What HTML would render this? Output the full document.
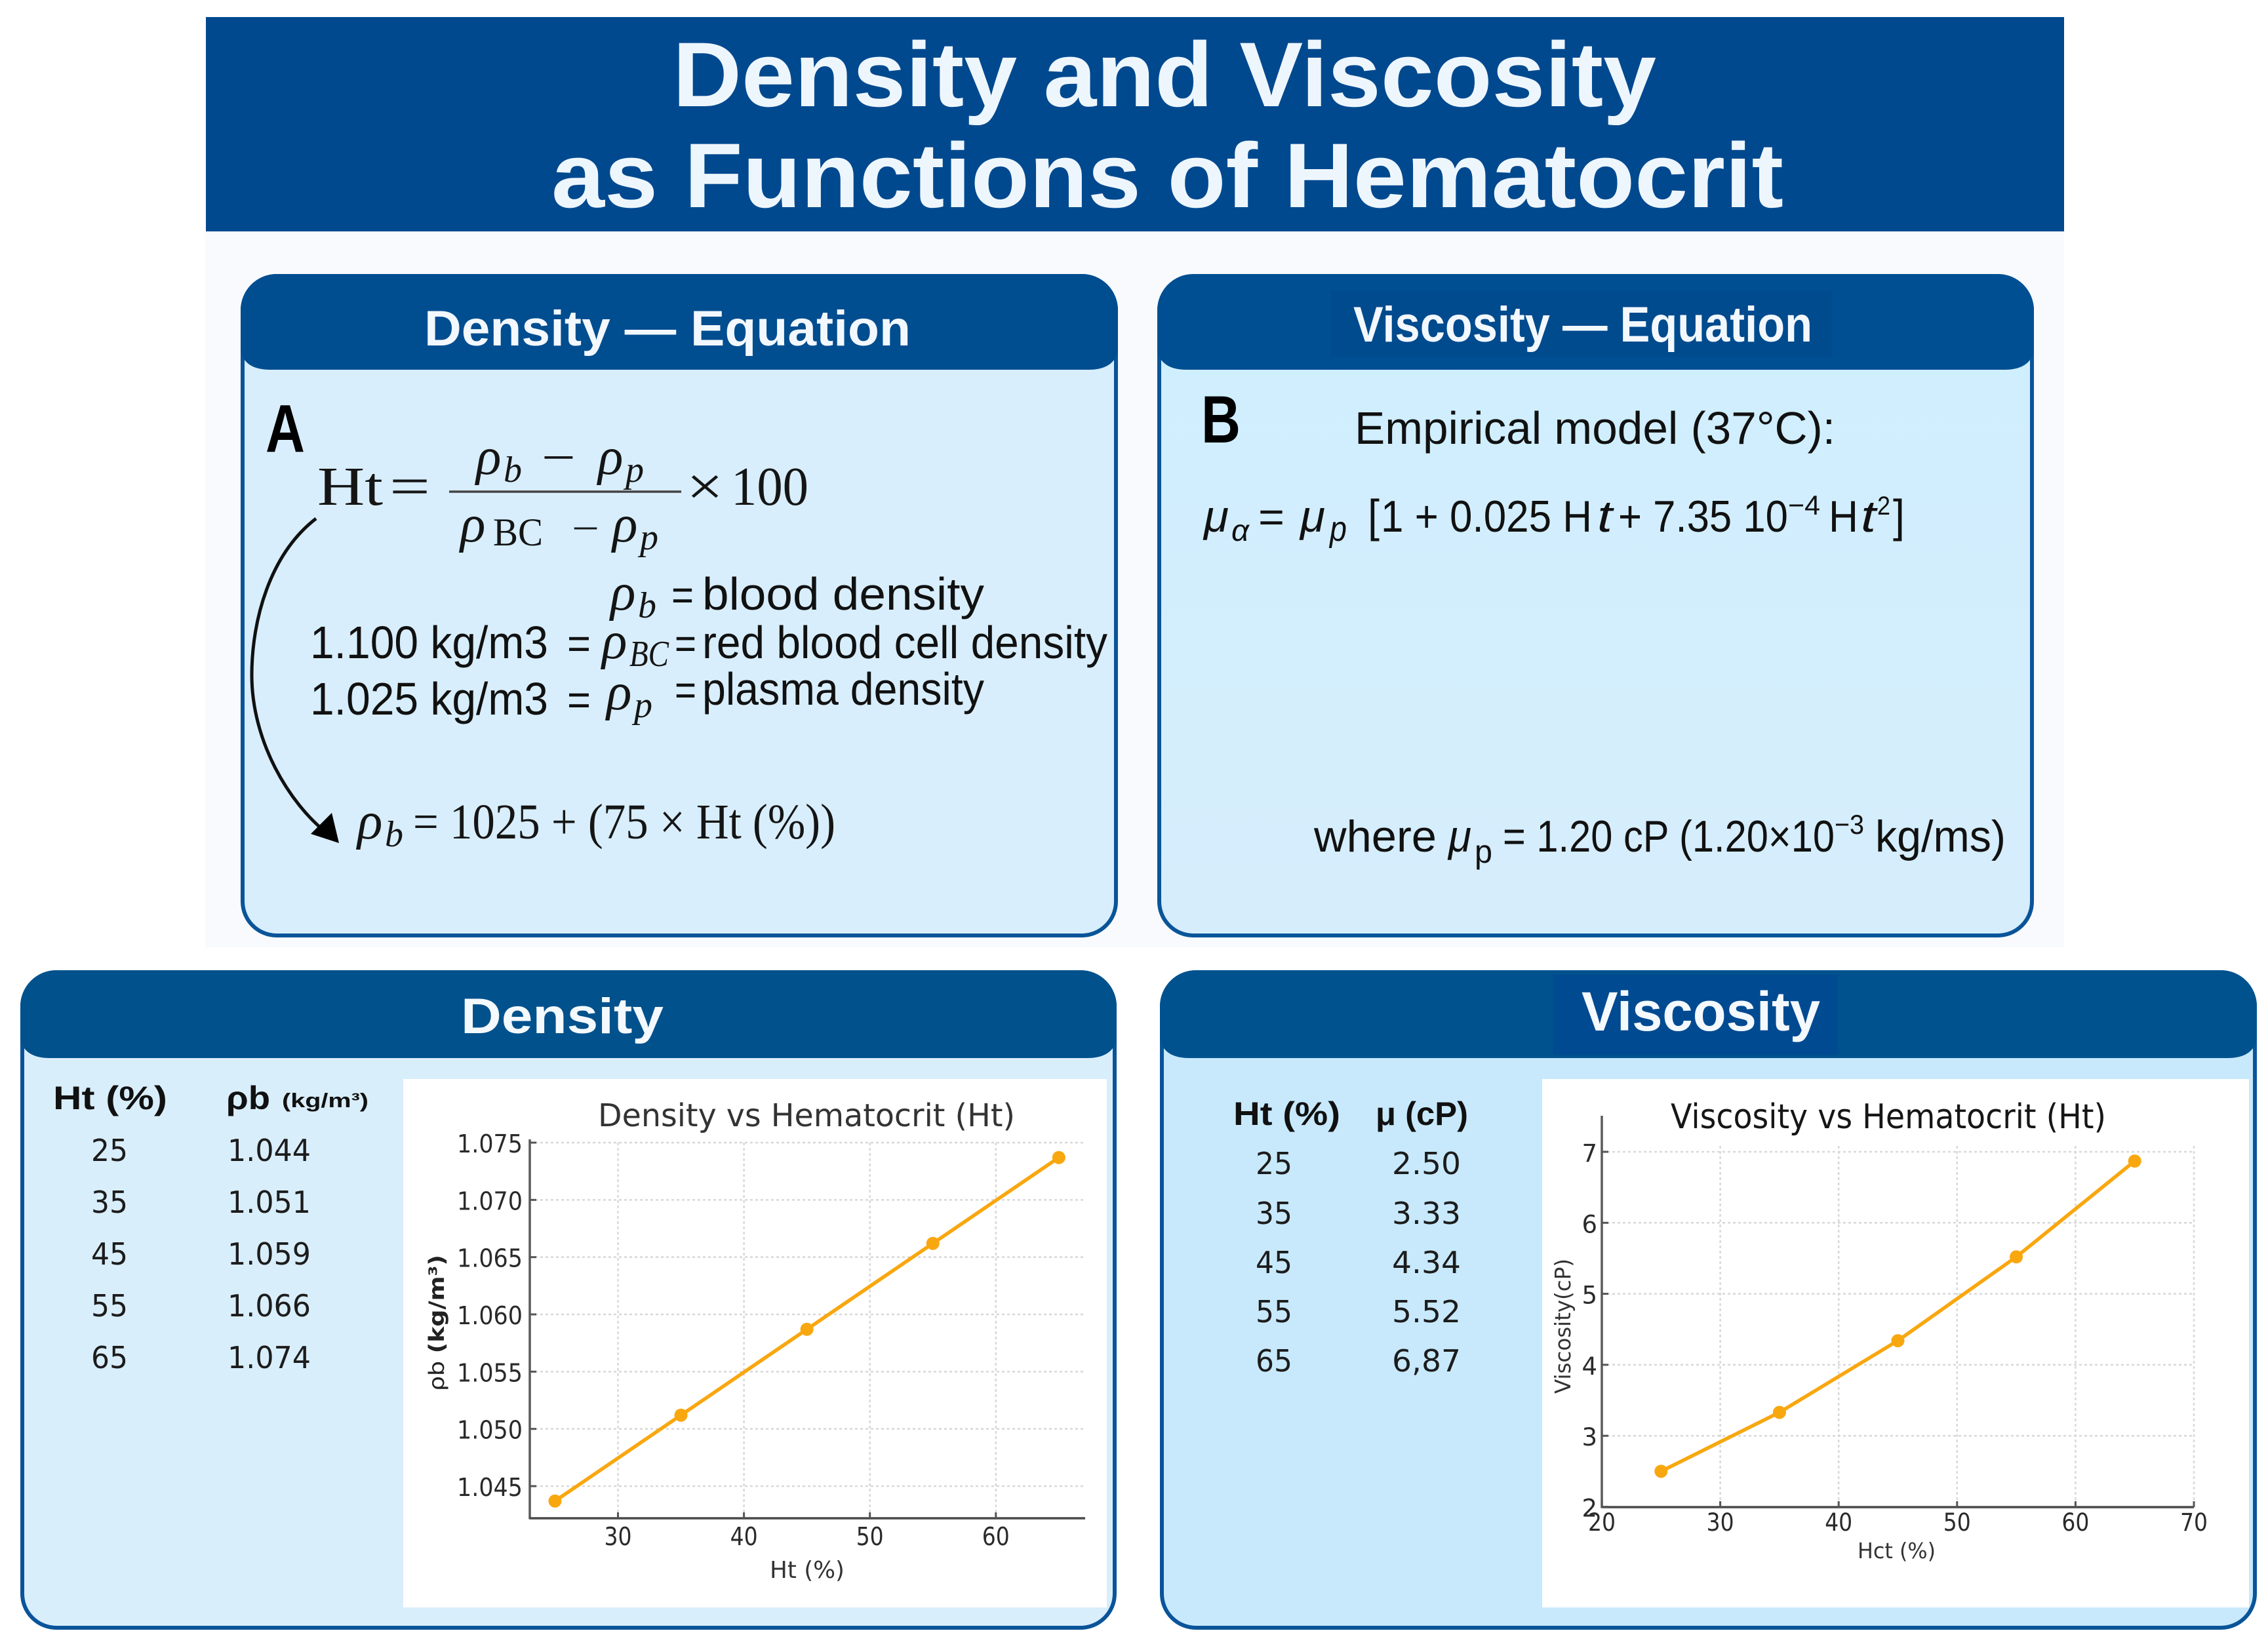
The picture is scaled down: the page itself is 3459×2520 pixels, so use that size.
<!DOCTYPE html>
<html lang="en">
<head>
<meta charset="utf-8">
<title>Density and Viscosity as Functions of Hematocrit</title>
<style>
html,body{margin:0;padding:0;background:#fff;width:3459px;height:2520px;overflow:hidden}
svg{display:block}
text{white-space:pre}
.s{font-family:"Liberation Sans",sans-serif;fill:#111}
.b{font-family:"Liberation Sans",sans-serif;font-weight:700}
.m{font-family:"Liberation Serif",serif;fill:#151515}
.i{font-style:italic}
.d{font-family:"DejaVu Sans",sans-serif;fill:#1c1c1c}
</style>
</head>
<body>
<svg id="figure" xmlns="http://www.w3.org/2000/svg" width="3459" height="2520" viewBox="0 0 3459 2520">
  <defs>
    <linearGradient id="visGrad" x1="0" y1="0" x2="0" y2="1"><stop offset="0" stop-color="#cfefff"/><stop offset="1" stop-color="#d6edfb"/></linearGradient>
  </defs>
  <rect width="3459" height="2520" fill="#ffffff"/>
  <rect x="313" y="353" width="2835" height="1092" fill="#f8fafd"/>

  <g>
    <rect x="314" y="26" width="2834" height="327" fill="#00498f"/>
    <text class="b" x="1026" y="162" font-size="140" fill="#eef6fd" textLength="1500" lengthAdjust="spacingAndGlyphs">Density and Viscosity</text>
    <text class="b" x="841" y="316" font-size="140" fill="#eef6fd" textLength="1879" lengthAdjust="spacingAndGlyphs">as Functions of Hematocrit</text>
  </g>

  <g>
    <rect x="370" y="421" width="1332" height="1006" rx="52" fill="#d8eefc" stroke="#0a5499" stroke-width="6"/>
    <path d="M367 473A55 55 0 0 1 422 418H1650A55 55 0 0 1 1705 473V536Q1698 564 1660 564H412Q374 564 367 536Z" fill="#004d90"/>
    <text class="b" x="647" y="527" font-size="76" fill="#f2f8fd" textLength="742" lengthAdjust="spacingAndGlyphs">Density — Equation</text>
    <text class="b" x="405" y="689" font-size="103" fill="#000" textLength="60" lengthAdjust="spacingAndGlyphs">A</text>
    <g>
      <text class="m" x="484" y="770" font-size="84" textLength="100" lengthAdjust="spacingAndGlyphs">Ht</text>
      <text class="m" x="594" y="770" font-size="84" textLength="62" lengthAdjust="spacingAndGlyphs">=</text>
      <text class="m i" x="726" y="723" font-size="80">ρ</text><text class="m i" x="768" y="735" font-size="56">b</text>
      <text class="m" x="826" y="723" font-size="76" textLength="52" lengthAdjust="spacingAndGlyphs">−</text>
      <text class="m i" x="912" y="723" font-size="80">ρ</text><text class="m i" x="954" y="735" font-size="56">p</text>
      <line x1="685" y1="750" x2="1039" y2="750" stroke="#444" stroke-width="3.5"/>
      <text class="m i" x="702" y="826" font-size="80">ρ</text><text class="m" x="752" y="832" font-size="60" textLength="76" lengthAdjust="spacingAndGlyphs">BC</text>
      <text class="m" x="872" y="826" font-size="60" textLength="42" lengthAdjust="spacingAndGlyphs">−</text>
      <text class="m i" x="934" y="826" font-size="80">ρ</text><text class="m i" x="976" y="838" font-size="56">p</text>
      <text class="m" x="1047" y="770" font-size="84" textLength="56" lengthAdjust="spacingAndGlyphs">×</text>
      <text class="m" x="1115" y="770" font-size="84" textLength="118" lengthAdjust="spacingAndGlyphs">100</text>
    </g>
    <g>
      <text class="m i" x="931" y="930" font-size="80">ρ</text><text class="m i" x="973" y="942" font-size="56">b</text>
      <text class="s" x="1024" y="930" font-size="66" textLength="34" lengthAdjust="spacingAndGlyphs">=</text>
      <text class="s" x="1071" y="930" font-size="70" textLength="430" lengthAdjust="spacingAndGlyphs">blood density</text>
      <text class="s" x="473" y="1004" font-size="70" textLength="363" lengthAdjust="spacingAndGlyphs">1.100 kg/m3</text>
      <text class="s" x="865" y="1004" font-size="66" textLength="36" lengthAdjust="spacingAndGlyphs">=</text>
      <text class="m i" x="918" y="1004" font-size="80">ρ</text><text class="m i" x="960" y="1016" font-size="56" textLength="60" lengthAdjust="spacingAndGlyphs">BC</text>
      <text class="s" x="1029" y="1004" font-size="66" textLength="33" lengthAdjust="spacingAndGlyphs">=</text>
      <text class="s" x="1071" y="1004" font-size="70" textLength="618" lengthAdjust="spacingAndGlyphs">red blood cell density</text>
      <text class="s" x="473" y="1090" font-size="70" textLength="363" lengthAdjust="spacingAndGlyphs">1.025 kg/m3</text>
      <text class="s" x="865" y="1090" font-size="66" textLength="36" lengthAdjust="spacingAndGlyphs">=</text>
      <text class="m i" x="925" y="1082" font-size="80">ρ</text><text class="m i" x="967" y="1094" font-size="56">p</text>
      <text class="s" x="1029" y="1075" font-size="66" textLength="33" lengthAdjust="spacingAndGlyphs">=</text>
      <text class="s" x="1071" y="1075" font-size="70" textLength="430" lengthAdjust="spacingAndGlyphs">plasma density</text>
    </g>
    <path d="M482 791C412 845 384 945 384 1030C384 1130 440 1225 500 1272" fill="none" stroke="#111" stroke-width="5"/>
    <path d="M517 1286L474 1272L506 1240Z" fill="#000"/>
    <g>
      <text class="m i" x="545" y="1279" font-size="80">ρ</text><text class="m i" x="587" y="1291" font-size="56">b</text>
      <text class="m" x="630" y="1279" font-size="76" textLength="644" lengthAdjust="spacingAndGlyphs">= 1025 + (75 × Ht (%))</text>
    </g>
  </g>

  <g>
    <rect x="1768" y="422" width="1331" height="1005" rx="52" fill="url(#visGrad)" stroke="#0a5499" stroke-width="6"/>
    <path d="M1765 473A55 55 0 0 1 1820 418H3047A55 55 0 0 1 3102 473V536Q3095 564 3057 564H1810Q1772 564 1765 536Z" fill="#004f93"/>
    <rect x="2030" y="444" width="764" height="100" fill="#004a8e"/>
    <text class="b" x="2064" y="521" font-size="76" fill="#f2f8fd" textLength="700" lengthAdjust="spacingAndGlyphs">Viscosity — Equation</text>
    <text class="b" x="1832" y="675" font-size="102" fill="#000" textLength="60" lengthAdjust="spacingAndGlyphs">B</text>
    <text class="s" x="2066" y="677" font-size="70" textLength="733" lengthAdjust="spacingAndGlyphs">Empirical model (37°C):</text>
    <g>
      <text class="s i" x="1836" y="811" font-size="68" textLength="38" lengthAdjust="spacingAndGlyphs">μ</text>
      <text class="s i" x="1878" y="825" font-size="46" textLength="27" lengthAdjust="spacingAndGlyphs">α</text>
      <text class="s" x="1919" y="811" font-size="66" textLength="40" lengthAdjust="spacingAndGlyphs">=</text>
      <text class="s i" x="1983" y="811" font-size="68" textLength="38" lengthAdjust="spacingAndGlyphs">μ</text>
      <text class="s i" x="2028" y="825" font-size="54" textLength="26" lengthAdjust="spacingAndGlyphs">p</text>
      <text class="s" x="2086" y="811" font-size="70" textLength="18" lengthAdjust="spacingAndGlyphs">[</text>
      <text class="s" x="2106" y="811" font-size="68" textLength="322" lengthAdjust="spacingAndGlyphs">1 + 0.025 H</text>
      <text class="s i" x="2436" y="811" font-size="68" textLength="23" lengthAdjust="spacingAndGlyphs" font-weight="400">t</text>
      <text class="s" x="2468" y="811" font-size="68" textLength="259" lengthAdjust="spacingAndGlyphs">+ 7.35 10</text>
      <text class="s" x="2727" y="785" font-size="42" textLength="49" lengthAdjust="spacingAndGlyphs">−4</text>
      <text class="s" x="2789" y="811" font-size="68" textLength="45" lengthAdjust="spacingAndGlyphs">H</text>
      <text class="s i" x="2838" y="811" font-size="68" textLength="23" lengthAdjust="spacingAndGlyphs">t</text>
      <text class="s" x="2863" y="785" font-size="40" textLength="20" lengthAdjust="spacingAndGlyphs">2</text>
      <text class="s" x="2887" y="811" font-size="70" textLength="18" lengthAdjust="spacingAndGlyphs">]</text>
    </g>
    <g>
      <text class="s" x="2004" y="1299" font-size="68" textLength="187" lengthAdjust="spacingAndGlyphs">where</text>
      <text class="s i" x="2209" y="1299" font-size="68" textLength="35" lengthAdjust="spacingAndGlyphs">μ</text>
      <text class="s" x="2249" y="1316" font-size="50" textLength="27" lengthAdjust="spacingAndGlyphs">p</text>
      <text class="s" x="2292" y="1299" font-size="68" textLength="506" lengthAdjust="spacingAndGlyphs">= 1.20 cP (1.20×10</text>
      <text class="s" x="2798" y="1272" font-size="42" textLength="45" lengthAdjust="spacingAndGlyphs">−3</text>
      <text class="s" x="2860" y="1299" font-size="68" textLength="199" lengthAdjust="spacingAndGlyphs">kg/ms)</text>
    </g>
  </g>

  <g>
    <rect x="34" y="1483" width="1666" height="1000" rx="52" fill="#d9eefb" stroke="#0a5499" stroke-width="6"/>
    <path d="M31 1535A55 55 0 0 1 86 1480H1648A55 55 0 0 1 1703 1535V1586Q1696 1614 1658 1614H76Q38 1614 31 1586Z" fill="#00518c"/>
    <text class="b" x="703" y="1576" font-size="76" fill="#f4f9fd" textLength="309" lengthAdjust="spacingAndGlyphs">Density</text>
    <g>
      <text class="b" x="81" y="1692" font-size="50" fill="#111" textLength="174" lengthAdjust="spacingAndGlyphs">Ht (%)</text>
      <text class="b" x="345" y="1692" font-size="50" fill="#111" textLength="67" lengthAdjust="spacingAndGlyphs">ρb</text>
      <text class="b" x="430" y="1689" font-size="31" fill="#111" textLength="132" lengthAdjust="spacingAndGlyphs">(kg/m³)</text>
      <text class="d" x="139" y="1771" font-size="46" textLength="56" lengthAdjust="spacingAndGlyphs">25</text><text class="d" x="347" y="1771" font-size="46" textLength="127" lengthAdjust="spacingAndGlyphs">1.044</text>
      <text class="d" x="139" y="1850" font-size="46" textLength="56" lengthAdjust="spacingAndGlyphs">35</text><text class="d" x="347" y="1850" font-size="46" textLength="127" lengthAdjust="spacingAndGlyphs">1.051</text>
      <text class="d" x="139" y="1929" font-size="46" textLength="56" lengthAdjust="spacingAndGlyphs">45</text><text class="d" x="347" y="1929" font-size="46" textLength="127" lengthAdjust="spacingAndGlyphs">1.059</text>
      <text class="d" x="139" y="2008" font-size="46" textLength="56" lengthAdjust="spacingAndGlyphs">55</text><text class="d" x="347" y="2008" font-size="46" textLength="127" lengthAdjust="spacingAndGlyphs">1.066</text>
      <text class="d" x="139" y="2087" font-size="46" textLength="56" lengthAdjust="spacingAndGlyphs">65</text><text class="d" x="347" y="2087" font-size="46" textLength="127" lengthAdjust="spacingAndGlyphs">1.074</text>
    </g>
    <rect x="615" y="1646" width="1073" height="806" fill="#ffffff"/>
    <text class="d" x="912" y="1718" font-size="48" textLength="636" lengthAdjust="spacingAndGlyphs" style="fill:#333">Density vs Hematocrit (Ht)</text>
    <text class="d" x="1174" y="2407" font-size="36" style="fill:#333" textLength="114" lengthAdjust="spacingAndGlyphs">Ht (%)</text>
    <text class="d" font-size="32" transform="translate(677 2122) rotate(-90)" style="fill:#222" textLength="208" lengthAdjust="spacingAndGlyphs">ρb <tspan font-weight="700">(kg/m³)</tspan></text>
    <g id="density-chart"></g>
  </g>

  <g>
    <rect x="1772" y="1483" width="1667" height="1000" rx="52" fill="#c8e9fc" stroke="#0a5499" stroke-width="6"/>
    <path d="M1769 1535A55 55 0 0 1 1824 1480H3387A55 55 0 0 1 3442 1535V1586Q3435 1614 3397 1614H1814Q1776 1614 1769 1586Z" fill="#00528f"/>
    <rect x="2369" y="1487" width="434" height="122" fill="#004a92"/>
    <text class="b" x="2412" y="1572" font-size="84" fill="#f4f9fd" textLength="364" lengthAdjust="spacingAndGlyphs">Viscosity</text>
    <g>
      <text class="b" x="1881" y="1716" font-size="50" fill="#111" textLength="163" lengthAdjust="spacingAndGlyphs">Ht (%)</text>
      <text class="b" x="2098" y="1716" font-size="50" fill="#111" textLength="141" lengthAdjust="spacingAndGlyphs">μ (cP)</text>
      <text class="d" x="1915" y="1791" font-size="46" textLength="56" lengthAdjust="spacingAndGlyphs">25</text><text class="d" x="2123" y="1791" font-size="46" textLength="105" lengthAdjust="spacingAndGlyphs">2.50</text>
      <text class="d" x="1915" y="1867" font-size="46" textLength="56" lengthAdjust="spacingAndGlyphs">35</text><text class="d" x="2123" y="1867" font-size="46" textLength="105" lengthAdjust="spacingAndGlyphs">3.33</text>
      <text class="d" x="1915" y="1942" font-size="46" textLength="56" lengthAdjust="spacingAndGlyphs">45</text><text class="d" x="2123" y="1942" font-size="46" textLength="105" lengthAdjust="spacingAndGlyphs">4.34</text>
      <text class="d" x="1915" y="2017" font-size="46" textLength="56" lengthAdjust="spacingAndGlyphs">55</text><text class="d" x="2123" y="2017" font-size="46" textLength="105" lengthAdjust="spacingAndGlyphs">5.52</text>
      <text class="d" x="1915" y="2092" font-size="46" textLength="56" lengthAdjust="spacingAndGlyphs">65</text><text class="d" x="2123" y="2092" font-size="46" textLength="105" lengthAdjust="spacingAndGlyphs">6,87</text>
    </g>
    <rect x="2352" y="1646" width="1078" height="806" fill="#ffffff"/>
    <text class="d" x="2548" y="1721" font-size="52" style="fill:#161616" textLength="664" lengthAdjust="spacingAndGlyphs">Viscosity vs Hematocrit (Ht)</text>
    <text class="d" x="2833" y="2377" font-size="33" style="fill:#333" textLength="119" lengthAdjust="spacingAndGlyphs">Hct (%)</text>
    <text class="d" font-size="33" transform="translate(2395 2126) rotate(-90)" style="fill:#333" textLength="206" lengthAdjust="spacingAndGlyphs">Viscosity(cP)</text>
    <g id="viscosity-chart"></g>
  </g>
</svg>

<script>
const densityHt = [25, 35, 45, 55, 65];
const densityValues = [1.0437, 1.0512, 1.0587, 1.0662, 1.0737];
const densityXTicks = [30, 40, 50, 60];
const densityYTicks = [1.045, 1.05, 1.055, 1.06, 1.065, 1.07, 1.075];
const densityYLabels = ['1.045', '1.050', '1.055', '1.060', '1.065', '1.070', '1.075'];

const viscosityHt = [25, 35, 45, 55, 65];
const viscosityValues = [2.5, 3.33, 4.34, 5.52, 6.87];
const viscosityXTicks = [20, 30, 40, 50, 60, 70];
const viscosityYTicks = [2, 3, 4, 5, 6, 7];
const viscosityYLabels = ['2', '3', '4', '5', '6', '7'];

const SVGNS = 'http://www.w3.org/2000/svg';
function make(parent, tag, attrs) {
  const el = document.createElementNS(SVGNS, tag);
  for (const k in attrs) el.setAttribute(k, attrs[k]);
  parent.appendChild(el);
  return el;
}

function densityX(v) { return 942.5 + (v - 30) * 19.21; }
function densityY(v) { return 1743 + (1.075 - v) * 17467; }
function viscosityX(v) { return 2443 + (v - 20) * 18.06; }
function viscosityY(v) { return 1757 + (7 - v) * 108.3; }

function drawChart(root, o) {
  const grid = make(root, 'g', { stroke: '#d8d8d8', 'stroke-width': 2.5, 'stroke-dasharray': '4 4', fill: 'none' });
  
  
  o.xTicks.forEach(function (t) {
    if (t === o.xSkipGrid) return;
    const g = make(grid, 'line', { x1: o.x(t), x2: o.x(t), y1: o.gridTop, y2: o.bottom });
    
    
  });
  o.yTicks.forEach(function (t) {
    if (t === o.ySkipGrid) return;
    const g = make(grid, 'line', { x1: o.left, x2: o.right, y1: o.y(t), y2: o.y(t) });
    
    
  });

  const yAxis = make(root, 'line', { x1: o.left, x2: o.left, y1: o.top, y2: o.bottom + 1.5, stroke: '#5a5a5a', 'stroke-width': 3.5 });
  
  
  const xAxis = make(root, 'line', { x1: o.left, x2: o.right, y1: o.bottom, y2: o.bottom, stroke: '#4a4a4a', 'stroke-width': 3.5 });
  
  

  o.xTicks.forEach(function (t) {
    const mark = make(root, 'line', { x1: o.x(t), x2: o.x(t), y1: o.bottom - 9, y2: o.bottom, stroke: '#555', 'stroke-width': 3 });
    
    
    const lab = make(root, 'text', { x: o.x(t), y: o.xLabelY, 'text-anchor': 'middle', 'font-size': o.fontSize, class: 'd', style: 'fill:#2a2a2a', textLength: 42, lengthAdjust: 'spacingAndGlyphs' });
    lab.textContent = String(t);
    
    
  });
  o.yTicks.forEach(function (t, i) {
    const mark = make(root, 'line', { x1: o.left, x2: o.left + 10, y1: o.y(t), y2: o.y(t), stroke: '#555', 'stroke-width': 3 });
    
    
    const lab = make(root, 'text', { x: o.yLabelX, y: o.y(t) + o.yLabelDy, 'text-anchor': 'end', 'font-size': o.fontSize, class: 'd', style: 'fill:#2a2a2a' });
    lab.textContent = o.yLabels[i];
    if (o.yLabelLen) lab.setAttribute('textLength', o.yLabelLen);
    if (o.yLabelLen) lab.setAttribute('lengthAdjust', 'spacingAndGlyphs');
    
    
  });

  const pts = o.xs.map(function (v, i) { return o.x(v) + ',' + o.y(o.ys[i]); }).join(' ');
  const line = make(root, 'polyline', { points: pts, fill: 'none', stroke: '#f9a70f', 'stroke-width': 5.5, 'stroke-linejoin': 'round' });
  
  
  o.xs.forEach(function (v, i) {
    const dot = make(root, 'circle', { cx: o.x(v), cy: o.y(o.ys[i]), r: 10, fill: '#f9a70f' });
    
    
  });
}

drawChart(document.getElementById('density-chart'), {
  xs: densityHt, ys: densityValues, xTicks: densityXTicks, yTicks: densityYTicks, yLabels: densityYLabels,
  x: densityX, y: densityY, left: 808, right: 1655, top: 1738, bottom: 2316, gridTop: 1743,
  xLabelY: 2357, yLabelX: 797, yLabelDy: 15, fontSize: 38, yLabelLen: 100
});
drawChart(document.getElementById('viscosity-chart'), {
  xs: viscosityHt, ys: viscosityValues, xTicks: viscosityXTicks, yTicks: viscosityYTicks, yLabels: viscosityYLabels,
  x: viscosityX, y: viscosityY, left: 2443, right: 3346, top: 1702, bottom: 2299, gridTop: 1748,
  xLabelY: 2335, yLabelX: 2436, yLabelDy: 15, fontSize: 37, xSkipGrid: 20, ySkipGrid: 2
});
</script>
</body>
</html>
